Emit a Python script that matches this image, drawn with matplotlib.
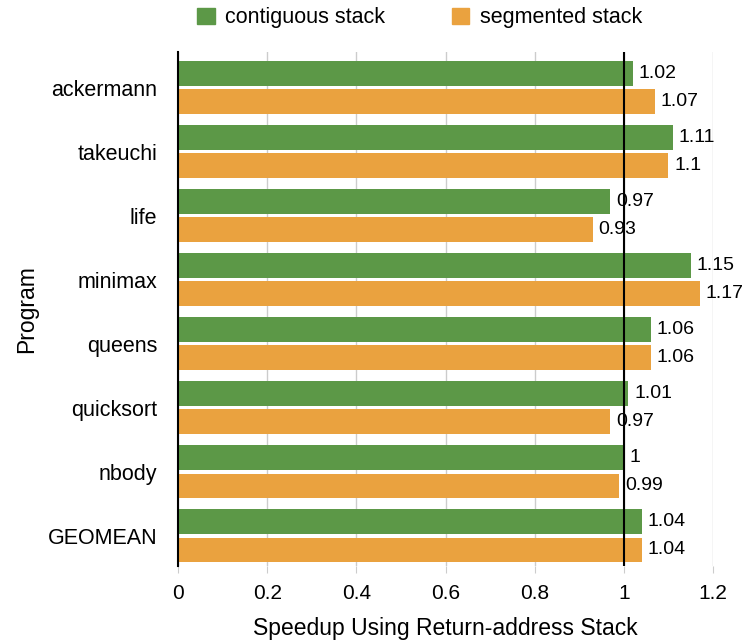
import matplotlib
matplotlib.use("Agg")
import matplotlib.pyplot as plt
from matplotlib.patches import Patch
import numpy as np

plt.rcParams['font.family'] = ['Liberation Sans', 'DejaVu Sans']

programs = ["ackermann", "takeuchi", "life", "minimax", "queens", "quicksort", "nbody", "GEOMEAN"]
contiguous = [1.02, 1.11, 0.97, 1.15, 1.06, 1.01, 1, 1.04]
segmented = [1.07, 1.1, 0.93, 1.17, 1.06, 0.97, 0.99, 1.04]
series_names = ["contiguous stack", "segmented stack"]
xticks = [0, 0.2, 0.4, 0.6, 0.8, 1, 1.2]
xtick_labels = ["0", "0.2", "0.4", "0.6", "0.8", "1", "1.2"]

green = "#5c9847"
orange = "#eaa23f"

fig = plt.figure(figsize=(7.42, 6.41), dpi=100)
ax = fig.add_axes([178/742, 1-566/641, (713-178)/742, (566-52)/641])

y = np.arange(len(programs))
h = 0.39
gap = 0.025
ax.barh(y - h/2 - gap, contiguous, height=h, color=green, zorder=2)
ax.barh(y + h/2 + gap, segmented, height=h, color=orange, zorder=2)

for yi, v in zip(y, contiguous):
    ax.text(v + 0.013, yi - h/2 - gap, f"{v:g}", va="center", ha="left", fontsize=14, zorder=4)
for yi, v in zip(y, segmented):
    ax.text(v + 0.013, yi + h/2 + gap, f"{v:g}", va="center", ha="left", fontsize=14, zorder=4)

ax.set_xlim(0, 1.2)
ax.set_ylim(len(programs) - 1 + 0.47, -0.56)
ax.set_yticks(y)
ax.set_yticklabels(programs, fontsize=15.5)
ax.set_xticks(xticks)
ax.set_xticklabels(xtick_labels, fontsize=15)
ax.tick_params(axis="y", length=0, pad=15)
ax.tick_params(axis="x", length=5, color="#cccccc", pad=8)
ax.grid(axis="x", color="#cccccc", linewidth=1, zorder=0)
ax.set_axisbelow(True)
for s in ["top", "right", "bottom"]:
    ax.spines[s].set_visible(False)
ax.spines["left"].set_color("black")
ax.spines["left"].set_linewidth(1.5)
ax.axvline(1, color="black", linewidth=1.5, zorder=3)

ax.set_xlabel("Speedup Using Return-address Stack", fontsize=16.5, labelpad=10)
ax.set_ylabel("Program", fontsize=16.5, labelpad=7)

handles = [Patch(color=green), Patch(color=orange)]
fig.legend(handles, series_names, loc="center", bbox_to_anchor=(0.566, 1-18/641), ncol=2,
           frameon=False, fontsize=15.5, handlelength=0.8, handleheight=0.8,
           handletextpad=0.5, columnspacing=3.1)

fig.savefig("out.png", dpi=100)
